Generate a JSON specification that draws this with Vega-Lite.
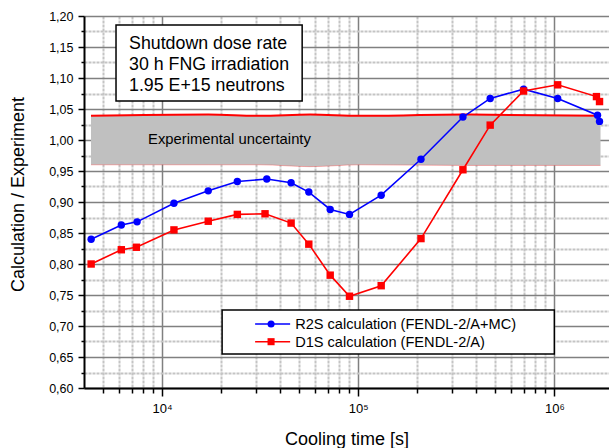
{
  "$schema": "https://vega.github.io/schema/vega-lite/v6.json",
  "width": 525,
  "height": 372,
  "autosize": {"type": "none"},
  "padding": {"left": 84, "top": 16, "right": 0, "bottom": 60},
  "background": "white",
  "config": {"view": {"stroke": null}, "font": "Liberation Sans"},
  "datasets": {
    "calc": [
      {"series": "R2S", "t": 4350, "r": 0.840},
      {"series": "R2S", "t": 6200, "r": 0.863},
      {"series": "R2S", "t": 7460, "r": 0.868},
      {"series": "R2S", "t": 11500, "r": 0.898},
      {"series": "R2S", "t": 17200, "r": 0.918},
      {"series": "R2S", "t": 24200, "r": 0.933},
      {"series": "R2S", "t": 34200, "r": 0.937},
      {"series": "R2S", "t": 45500, "r": 0.931},
      {"series": "R2S", "t": 56000, "r": 0.916},
      {"series": "R2S", "t": 72000, "r": 0.888},
      {"series": "R2S", "t": 90300, "r": 0.880},
      {"series": "R2S", "t": 131000, "r": 0.911},
      {"series": "R2S", "t": 209000, "r": 0.969},
      {"series": "R2S", "t": 342000, "r": 1.037},
      {"series": "R2S", "t": 471000, "r": 1.067},
      {"series": "R2S", "t": 697000, "r": 1.082},
      {"series": "R2S", "t": 1040000, "r": 1.067},
      {"series": "R2S", "t": 1660000, "r": 1.040},
      {"series": "R2S", "t": 1700000, "r": 1.030},
      {"series": "D1S", "t": 4350, "r": 0.800},
      {"series": "D1S", "t": 6200, "r": 0.823},
      {"series": "D1S", "t": 7400, "r": 0.827},
      {"series": "D1S", "t": 11500, "r": 0.855},
      {"series": "D1S", "t": 17200, "r": 0.869},
      {"series": "D1S", "t": 24200, "r": 0.880},
      {"series": "D1S", "t": 33500, "r": 0.881},
      {"series": "D1S", "t": 45500, "r": 0.866},
      {"series": "D1S", "t": 56000, "r": 0.832},
      {"series": "D1S", "t": 72000, "r": 0.782},
      {"series": "D1S", "t": 90300, "r": 0.748},
      {"series": "D1S", "t": 131000, "r": 0.765},
      {"series": "D1S", "t": 209000, "r": 0.841},
      {"series": "D1S", "t": 342000, "r": 0.952},
      {"series": "D1S", "t": 471000, "r": 1.024},
      {"series": "D1S", "t": 697000, "r": 1.079},
      {"series": "D1S", "t": 1040000, "r": 1.089},
      {"series": "D1S", "t": 1640000, "r": 1.070},
      {"series": "D1S", "t": 1700000, "r": 1.062}
    ],
    "band": [
      {"t": 4343, "lo": 0.960, "hi": 1.039},
      {"t": 17200, "lo": 0.960, "hi": 1.041},
      {"t": 31600, "lo": 0.960, "hi": 1.039},
      {"t": 56900, "lo": 0.957, "hi": 1.041},
      {"t": 102000, "lo": 0.960, "hi": 1.039},
      {"t": 342000, "lo": 0.959, "hi": 1.041},
      {"t": 1720000, "lo": 0.959, "hi": 1.039}
    ],
    "one": [{}]
  },
  "layer": [
    {
      "data": {"name": "calc"},
      "mark": {"type": "point", "opacity": 0},
      "encoding": {
        "x": {
          "field": "t", "type": "quantitative",
          "scale": {"type": "log", "domain": [4000, 1900000], "nice": false},
          "axis": {
            "orient": "bottom", "title": null, "labels": false, "domain": false,
            "values": [5000, 6000, 7000, 8000, 9000, 20000, 30000, 40000, 50000, 60000, 70000, 80000, 90000, 200000, 300000, 400000, 500000, 600000, 700000, 800000, 900000],
            "ticks": true, "tickSize": 5, "tickColor": "black", "tickWidth": 1.5,
            "grid": true, "gridColor": "#c4c4c4", "gridWidth": 2, "gridDash": [3, 1]
          }
        },
        "y": {
          "field": "r", "type": "quantitative",
          "scale": {"domain": [0.6, 1.2], "nice": false, "zero": false},
          "axis": {
            "orient": "left", "title": null, "labels": false, "domain": false,
            "values": [0.625, 0.675, 0.725, 0.775, 0.825, 0.875, 0.925, 0.975, 1.025, 1.075, 1.125, 1.175],
            "ticks": true, "tickSize": 3, "tickColor": "black", "tickWidth": 1.5,
            "grid": true, "gridColor": "#c4c4c4", "gridWidth": 2, "gridDash": [3, 1]
          }
        }
      }
    },
    {
      "data": {"name": "calc"},
      "mark": {"type": "point", "opacity": 0},
      "encoding": {
        "x": {
          "field": "t", "type": "quantitative",
          "axis": {
            "orient": "bottom", "title": "Cooling time [s]",
            "values": [10000, 100000, 1000000],
            "labelExpr": "datum.value == 10000 ? '10⁴' : datum.value == 100000 ? '10⁵' : '10⁶'",
            "labelFontSize": 13, "labelColor": "black", "labelPadding": 6,
            "domain": true, "domainColor": "black", "domainWidth": 2,
            "ticks": true, "tickSize": 8, "tickColor": "black", "tickWidth": 1.5,
            "grid": true, "gridColor": "#808080", "gridWidth": 1.5,
            "titleFontSize": 18, "titleFontWeight": "normal", "titleColor": "black",
            "titleBaseline": "alphabetic", "titleY": 56
          }
        },
        "y": {
          "field": "r", "type": "quantitative",
          "axis": {
            "orient": "left", "title": "Calculation / Experiment",
            "values": [0.6, 0.65, 0.7, 0.75, 0.8, 0.85, 0.9, 0.95, 1.0, 1.05, 1.1, 1.15, 1.2],
            "labelExpr": "replace(format(datum.value, '.2f'), '.', ',')",
            "labelFontSize": 12.5, "labelColor": "black", "labelPadding": 5,
            "domain": true, "domainColor": "black", "domainWidth": 2,
            "ticks": true, "tickSize": 6, "tickColor": "black", "tickWidth": 1.5,
            "grid": true, "gridColor": "#808080", "gridWidth": 1.5,
            "titleFontSize": 18, "titleFontWeight": "normal", "titleColor": "black",
            "titleAngle": 270, "titleAlign": "center", "titleBaseline": "middle",
            "titleX": -66, "titleY": 178
          }
        }
      }
    },
    {
      "data": {"name": "band"},
      "mark": {"type": "area", "color": "#c0c0c0", "interpolate": "monotone"},
      "encoding": {
        "x": {"field": "t", "type": "quantitative", "axis": null},
        "y": {"field": "hi", "type": "quantitative", "axis": null},
        "y2": {"field": "lo"}
      }
    },
    {
      "data": {"name": "band"},
      "mark": {"type": "line", "color": "#ff0000", "strokeWidth": 2, "interpolate": "monotone"},
      "encoding": {
        "x": {"field": "t", "type": "quantitative", "axis": null},
        "y": {"field": "hi", "type": "quantitative", "axis": null}
      }
    },
    {
      "data": {"name": "band"},
      "mark": {"type": "line", "color": "#ff0000", "strokeWidth": 0.7, "opacity": 0.4, "interpolate": "monotone"},
      "encoding": {
        "x": {"field": "t", "type": "quantitative", "axis": null},
        "y": {"field": "lo", "type": "quantitative", "axis": null}
      }
    },
    {
      "data": {"name": "one"},
      "mark": {"type": "text", "text": "Experimental uncertainty", "fontSize": 14.8, "align": "left", "baseline": "alphabetic", "color": "black"},
      "encoding": {
        "x": {"datum": 8482, "type": "quantitative", "axis": null},
        "y": {"datum": 0.993, "type": "quantitative", "axis": null}
      }
    },
    {
      "data": {"name": "calc"},
      "mark": {"type": "line", "strokeWidth": 1.6, "interpolate": "linear"},
      "encoding": {
        "x": {"field": "t", "type": "quantitative", "axis": null},
        "y": {"field": "r", "type": "quantitative", "axis": null},
        "color": {"field": "series", "type": "nominal", "scale": {"domain": ["R2S", "D1S"], "range": ["#0000ff", "#ff0000"]}, "legend": null}
      }
    },
    {
      "data": {"name": "calc"},
      "mark": {"type": "point", "filled": true, "opacity": 1, "size": 55},
      "encoding": {
        "x": {"field": "t", "type": "quantitative", "axis": null},
        "y": {"field": "r", "type": "quantitative", "axis": null},
        "color": {"field": "series", "type": "nominal", "scale": {"domain": ["R2S", "D1S"], "range": ["#0000ff", "#ff0000"]}, "legend": null},
        "shape": {"field": "series", "type": "nominal", "scale": {"domain": ["R2S", "D1S"], "range": ["circle", "square"]}, "legend": null}
      }
    },
    {
      "data": {"name": "one"},
      "mark": {"type": "rect", "fill": "white", "stroke": "black", "strokeWidth": 1.5},
      "encoding": {
        "x": {"datum": 5825, "type": "quantitative", "axis": null},
        "x2": {"datum": 51800},
        "y": {"datum": 1.1855, "type": "quantitative", "axis": null},
        "y2": {"datum": 1.0629}
      }
    },
    {
      "data": {"name": "one"},
      "mark": {"type": "text", "text": ["Shutdown dose rate", "30 h FNG irradiation", "1.95 E+15 neutrons"], "lineHeight": 21, "fontSize": 17.8, "align": "left", "baseline": "alphabetic", "color": "black"},
      "encoding": {
        "x": {"datum": 6786, "type": "quantitative", "axis": null},
        "y": {"datum": 1.1468, "type": "quantitative", "axis": null}
      }
    },
    {
      "data": {"name": "one"},
      "mark": {"type": "rect", "fill": "white", "stroke": "black", "strokeWidth": 1.5},
      "encoding": {
        "x": {"datum": 20240, "type": "quantitative", "axis": null},
        "x2": {"datum": 1000000},
        "y": {"datum": 0.7258, "type": "quantitative", "axis": null},
        "y2": {"datum": 0.6548}
      }
    },
    {
      "data": {"name": "one"},
      "mark": {"type": "rule", "color": "#0000ff", "strokeWidth": 1.6},
      "encoding": {
        "x": {"datum": 29820, "type": "quantitative", "axis": null},
        "x2": {"datum": 44980},
        "y": {"datum": 0.7032, "type": "quantitative", "axis": null}
      }
    },
    {
      "data": {"name": "one"},
      "mark": {"type": "point", "shape": "circle", "filled": true, "opacity": 1, "size": 50, "color": "#0000ff"},
      "encoding": {
        "x": {"datum": 35960, "type": "quantitative", "axis": null},
        "y": {"datum": 0.7032, "type": "quantitative", "axis": null}
      }
    },
    {
      "data": {"name": "one"},
      "mark": {"type": "rule", "color": "#ff0000", "strokeWidth": 1.6},
      "encoding": {
        "x": {"datum": 29820, "type": "quantitative", "axis": null},
        "x2": {"datum": 44980},
        "y": {"datum": 0.6747, "type": "quantitative", "axis": null}
      }
    },
    {
      "data": {"name": "one"},
      "mark": {"type": "point", "shape": "square", "filled": true, "opacity": 1, "size": 50, "color": "#ff0000"},
      "encoding": {
        "x": {"datum": 35960, "type": "quantitative", "axis": null},
        "y": {"datum": 0.6747, "type": "quantitative", "axis": null}
      }
    },
    {
      "data": {"name": "one"},
      "mark": {"type": "text", "text": "R2S calculation (FENDL-2/A+MC)", "fontSize": 14.6, "align": "left", "baseline": "alphabetic", "color": "black"},
      "encoding": {
        "x": {"datum": 47700, "type": "quantitative", "axis": null},
        "y": {"datum": 0.6947, "type": "quantitative", "axis": null}
      }
    },
    {
      "data": {"name": "one"},
      "mark": {"type": "text", "text": "D1S calculation (FENDL-2/A)", "fontSize": 14.6, "align": "left", "baseline": "alphabetic", "color": "black"},
      "encoding": {
        "x": {"datum": 47700, "type": "quantitative", "axis": null},
        "y": {"datum": 0.6666, "type": "quantitative", "axis": null}
      }
    }
  ],
  "resolve": {"axis": {"x": "independent", "y": "independent"}}
}
